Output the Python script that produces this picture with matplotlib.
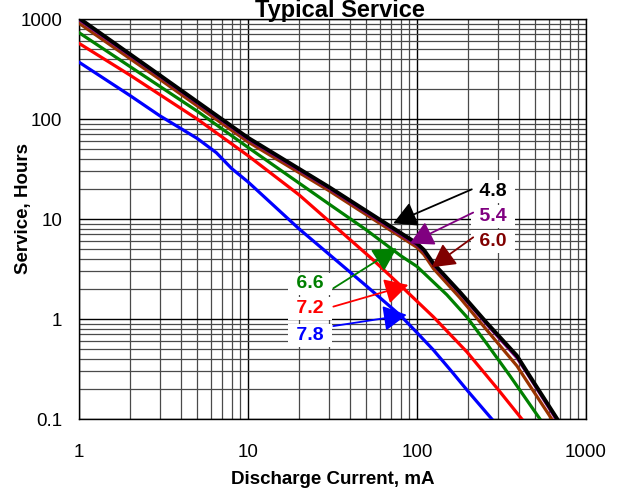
import matplotlib
matplotlib.use("Agg")
import matplotlib.pyplot as plt
from matplotlib.ticker import LogLocator, FixedLocator, FixedFormatter, NullFormatter

plt.rcParams['font.family'] = ['Liberation Sans', 'DejaVu Sans']

# ---- data ----
x_48 = [1, 3, 10, 30, 100, 110, 125, 180, 258, 390, 446, 676]
y_48 = [1020, 275, 65, 21, 5.7, 4.9, 3.6, 1.85, 0.92, 0.43, 0.30, 0.1]

x_54 = [1, 3, 10, 30, 100, 110, 125, 180, 258, 390, 446, 665]
y_54 = [985, 268, 63, 20.4, 5.5, 4.75, 3.5, 1.8, 0.89, 0.41, 0.29, 0.1]

x_60 = [1, 3, 10, 30, 100, 110, 125, 180, 258, 390, 446, 627]
y_60 = [906, 250, 59, 19.3, 5.2, 4.4, 3.2, 1.62, 0.78, 0.34, 0.24, 0.1]

x_66 = [1, 2, 5, 10, 15.5, 30, 50, 80, 100, 150, 197, 258, 355, 534]
y_66 = [730, 335, 120, 52, 31, 14.2, 7.8, 4.3, 3.35, 1.75, 1.05, 0.57, 0.27, 0.1]

x_72 = [1, 2, 5, 10, 20, 55, 79, 125, 197, 300, 417]
y_72 = [571, 275, 100, 43, 17.5, 3.9, 2.2, 1.05, 0.47, 0.2, 0.1]

x_78 = [1, 2, 3, 5, 6.5, 8, 10, 20, 50, 80, 100, 125, 160, 200, 277]
y_78 = [370, 172, 108, 64, 46, 32, 23.5, 8.0, 2.15, 1.08, 0.73, 0.49, 0.30, 0.19, 0.1]

x_ticks = [1, 10, 100, 1000]
x_tick_labels = ["1", "10", "100", "1000"]
y_ticks = [0.1, 1, 10, 100, 1000]
y_tick_labels = ["0.1", "1", "10", "100", "1000"]

labels = ["4.8", "5.4", "6.0", "6.6", "7.2", "7.8"]
label_colors = ["#000000", "#800080", "#800000", "#008000", "#FF0000", "#0000FF"]
# label text positions (data coords)
label_x = [283, 283, 283, 23.3, 23.3, 23.3]
label_y = [18.75, 10.5, 5.93, 2.24, 1.28, 0.69]
# arrow start and tip positions (data coords)
arrow_start_x = [211, 215, 215, 32, 32, 32]
arrow_start_y = [19.8, 11.6, 6.56, 2.03, 1.33, 0.85]
arrow_tip_x = [72.4, 90.9, 122, 75.8, 88.8, 86.9]
arrow_tip_y = [9.06, 5.7, 3.29, 5.1, 2.19, 1.1]

# ---- figure ----
fig = plt.figure(figsize=(6.2, 4.9), dpi=100)
ax = fig.add_axes([79 / 620, 1 - 419 / 490, (586 - 79) / 620, (419 - 19) / 490])
ax.set_xscale('log')
ax.set_yscale('log')
ax.set_xlim(1, 1000)
ax.set_ylim(0.1, 1000)

# grid
ax.xaxis.set_minor_locator(LogLocator(base=10, subs=range(2, 10)))
ax.yaxis.set_minor_locator(LogLocator(base=10, subs=range(2, 10)))
ax.xaxis.set_minor_formatter(NullFormatter())
ax.yaxis.set_minor_formatter(NullFormatter())
ax.grid(True, which='major', color='black', linewidth=1.0)
ax.grid(True, which='minor', color='#4a4a4a', linewidth=0.9)
ax.set_axisbelow(True)

# curves
ax.plot(x_78, y_78, color='#0000FF', lw=2.3, zorder=3)
ax.plot(x_72, y_72, color='#FF0000', lw=2.3, zorder=3)
ax.plot(x_66, y_66, color='#008000', lw=2.3, zorder=3)
ax.plot(x_60, y_60, color='#993300', lw=2.3, zorder=3)
ax.plot(x_54, y_54, color='#800080', lw=2.3, zorder=3)
ax.plot(x_48, y_48, color='#000000', lw=2.8, zorder=4)

# ticks
ax.xaxis.set_major_locator(FixedLocator(x_ticks))
ax.xaxis.set_major_formatter(FixedFormatter(x_tick_labels))
ax.yaxis.set_major_locator(FixedLocator(y_ticks))
ax.yaxis.set_major_formatter(FixedFormatter(y_tick_labels))
ax.tick_params(axis='both', which='both', length=0)
ax.tick_params(axis='x', which='major', pad=18, labelsize=13.5)
ax.tick_params(axis='y', which='major', pad=12, labelsize=13.5)
for s in ax.spines.values():
    s.set_color('black')
    s.set_linewidth(1.0)

ax.set_xlabel("Discharge Current, mA", fontsize=13.5, fontweight='bold', labelpad=7)
ax.set_ylabel("Service, Hours", fontsize=13.5, fontweight='bold')
ax.yaxis.set_label_coords(-0.092, 0.526)

fig.text(340 / 620, 1 - 17 / 490, "Typical Service", ha='center', va='baseline',
         fontsize=17, fontweight='bold')

# annotations
for i in range(len(labels)):
    ax.annotate('', xy=(arrow_tip_x[i], arrow_tip_y[i]),
                xytext=(arrow_start_x[i], arrow_start_y[i]),
                arrowprops=dict(arrowstyle='-|>,head_length=0.55,head_width=0.3',
                                color=label_colors[i], lw=1.3,
                                mutation_scale=26, shrinkA=0, shrinkB=0),
                zorder=6)
    ax.text(label_x[i], label_y[i], " " + labels[i] + " ", color=label_colors[i],
            fontsize=14, fontweight='bold', ha='center', va='center', zorder=5,
            bbox=dict(facecolor='white', edgecolor='none', boxstyle='square,pad=0.15'))

fig.savefig("out.png", dpi=100)
